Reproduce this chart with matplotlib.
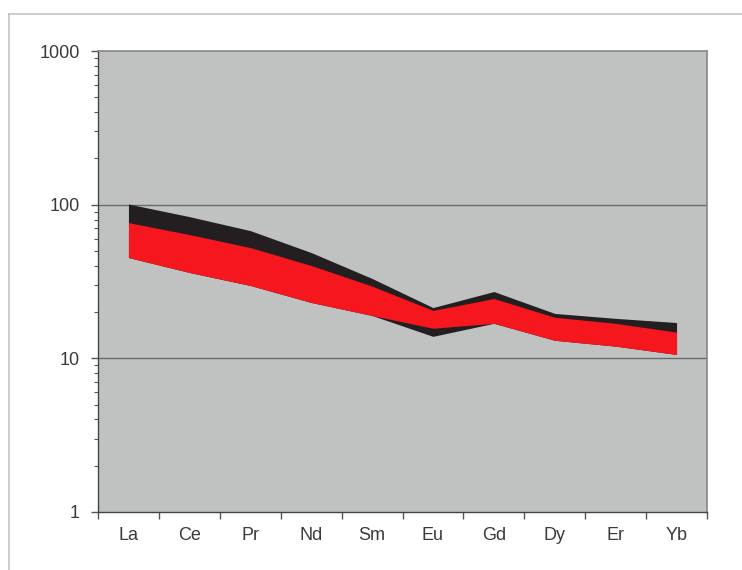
import matplotlib
matplotlib.use("Agg")
import matplotlib.pyplot as plt
from matplotlib.lines import Line2D
from matplotlib.ticker import FixedLocator, NullFormatter, LogLocator
import numpy as np

plt.rcParams['font.family'] = ['Liberation Sans', 'DejaVu Sans']

elements = ["La", "Ce", "Pr", "Nd", "Sm", "Eu", "Gd", "Dy", "Er", "Yb"]

# Envelope of the wider (black) field
black_upper = [101, 83.6, 67.8, 48.8, 33.1, 21.4, 27.2, 19.6, 18.2, 17.1]
black_lower = [45.3, 36.2, 29.8, 23.1, 19.0, 13.9, 16.9, 13.1, 12.0, 10.6]

# Envelope of the narrower (red) field
red_upper = [76.4, 63.9, 52.6, 40.2, 29.5, 20.5, 24.5, 18.5, 16.9, 14.8]
red_lower = [45.3, 36.2, 29.8, 23.1, 19.0, 15.7, 16.9, 13.1, 12.0, 10.6]

y_ticks = [1, 10, 100, 1000]
y_ticklabels = ["1", "10", "100", "1000"]

fig = plt.figure(figsize=(7.42, 5.70), dpi=100)
fig.patch.set_facecolor("white")

# thin frame around the chart area
fig.add_artist(Line2D([9/742, 1.0], [1 - 14/570, 1 - 14/570], transform=fig.transFigure,
                      color="#c4c4c4", lw=1.2))
fig.add_artist(Line2D([9/742, 9/742], [0.0, 1 - 14/570], transform=fig.transFigure,
                      color="#c4c4c4", lw=1.2))

ax = fig.add_axes([98/742, 1 - 512/570, (707 - 98)/742, (512 - 51)/570])
ax.set_facecolor("#c0c2c2")

x = np.arange(len(elements))
ax.fill_between(x, black_lower, black_upper, color="#231f20", lw=0, zorder=2)
ax.fill_between(x, red_lower, red_upper, color="#f5161e", lw=0, zorder=3)

ax.set_yscale("log")
ax.set_ylim(1, 1000)
ax.set_xlim(-0.5, len(elements) - 0.5)

for v in (10, 100):
    ax.axhline(v, color="#6a6a6a", lw=1.0, zorder=1)

ax.yaxis.set_major_locator(FixedLocator(y_ticks))
ax.set_yticklabels(y_ticklabels)
ax.yaxis.set_minor_locator(LogLocator(base=10, subs=np.arange(2, 10)))
ax.yaxis.set_minor_formatter(NullFormatter())
ax.tick_params(axis="y", which="major", length=5, width=1, color="#555555",
               labelsize=13, labelcolor="#3a3a3a", pad=8)
ax.tick_params(axis="y", which="minor", length=3, width=0.8, color="#555555")

ax.set_xticks(np.arange(-0.5, len(elements), 1.0))
ax.set_xticklabels([])
ax.set_xticks(x, minor=True)
ax.set_xticklabels(elements, minor=True)
ax.tick_params(axis="x", which="major", length=5, width=1, color="#555555")
ax.tick_params(axis="x", which="minor", length=0, labelsize=13,
               labelcolor="#3a3a3a", pad=11)

for side in ("left", "bottom"):
    ax.spines[side].set_color("#444444")
    ax.spines[side].set_linewidth(1.0)
for side in ("top", "right"):
    ax.spines[side].set_color("#888888")
    ax.spines[side].set_linewidth(1.2)

fig.savefig("out.png", dpi=100, facecolor="white")
